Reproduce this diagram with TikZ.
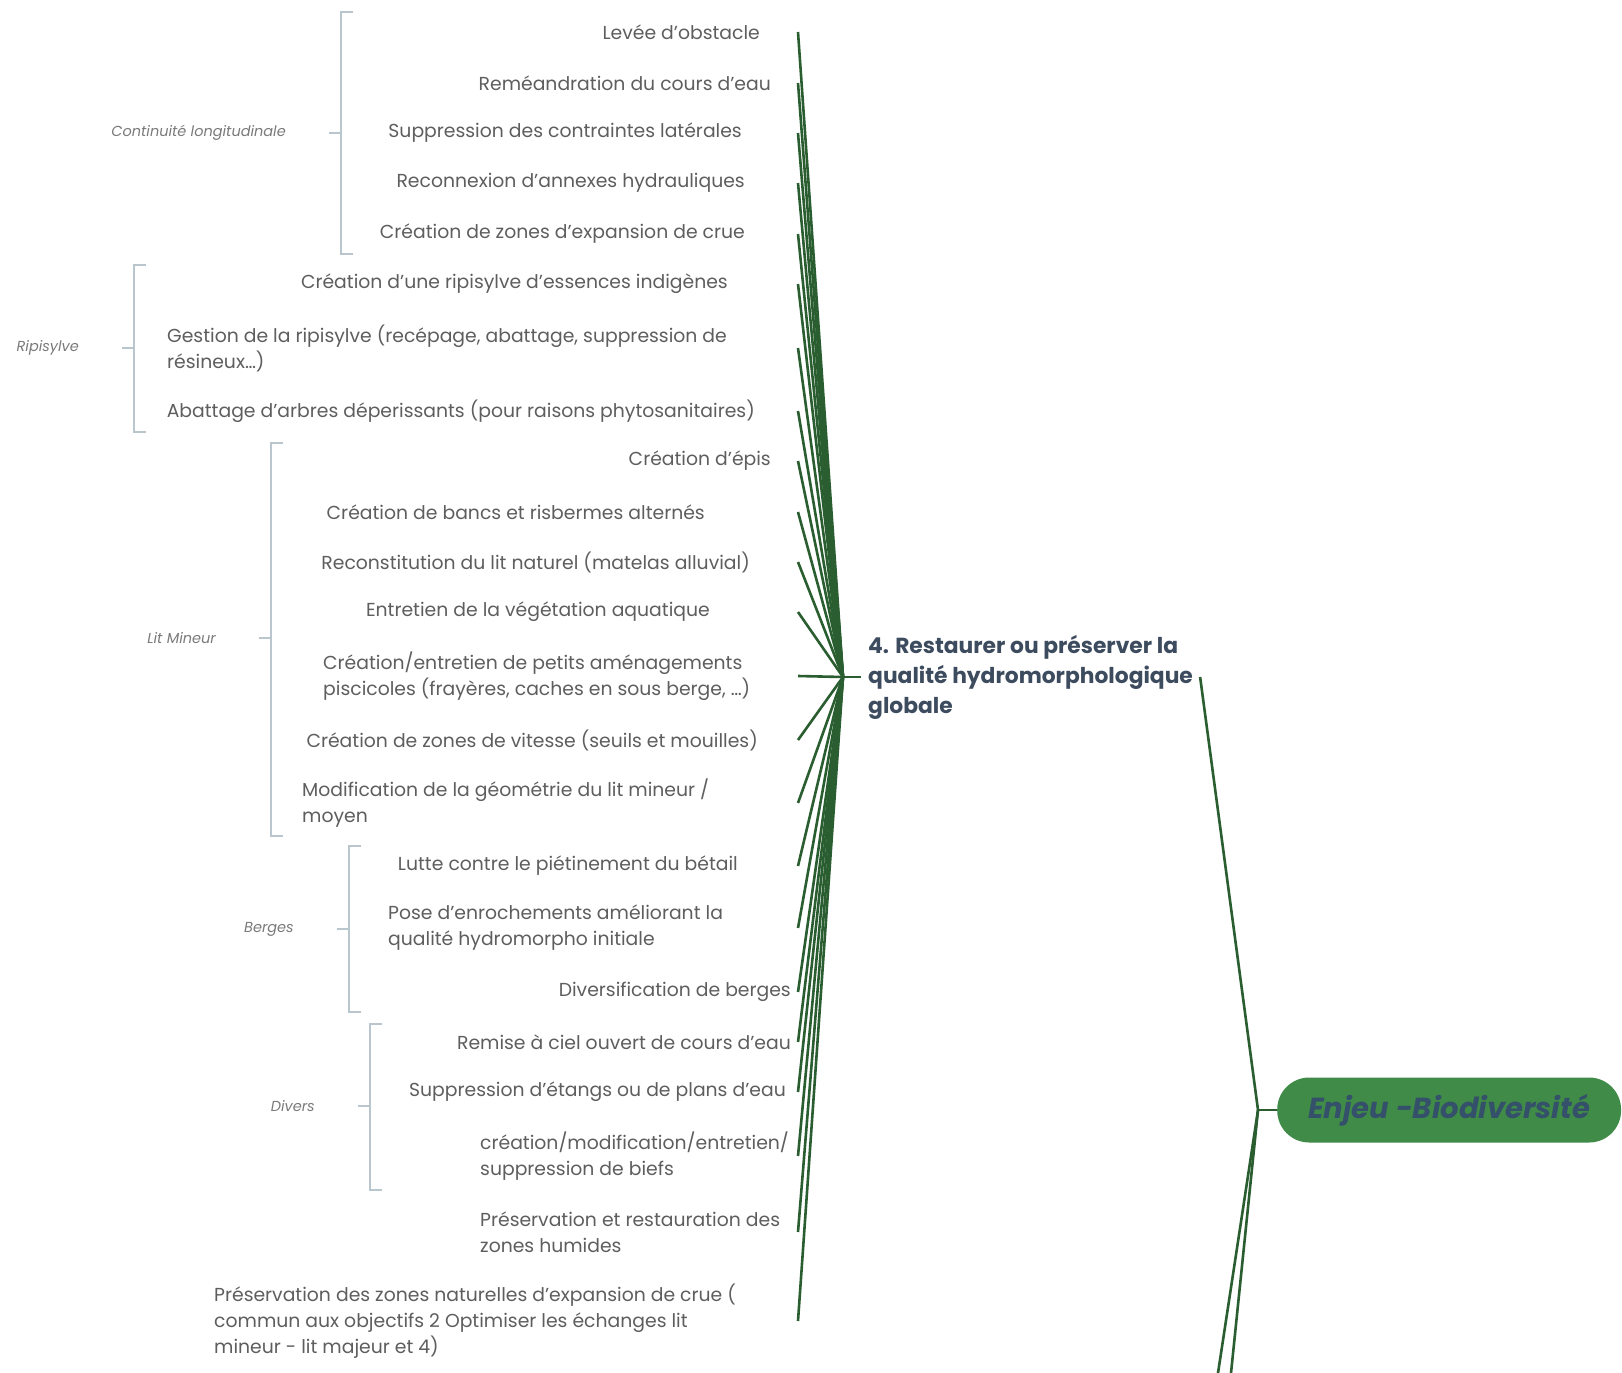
\documentclass[tikz,border=0pt]{standalone}
\usepackage{fontspec}
\setmainfont{Poppins}
\usetikzlibrary{positioning}

\definecolor{leafgray}{HTML}{5E5E5E}
\definecolor{catgray}{HTML}{7A7A7A}
\definecolor{brackgray}{HTML}{BAC6CD}
\definecolor{branchgreen}{HTML}{2A5E30}
\definecolor{titleblue}{HTML}{3D4B5F}
\definecolor{enjeugreen}{HTML}{3F8B47}
\definecolor{enjeutext}{HTML}{34506A}

\begin{document}
\begin{tikzpicture}[x=1pt, y=-1pt,
    leaf/.style={text=leafgray, font=\fontsize{18.8}{26}\selectfont, inner sep=0pt, align=left},
    cat/.style={text=catgray, font=\fontsize{14.5}{16}\selectfont\itshape, inner sep=0pt},
    brack/.style={brackgray, line width=1.2pt},
    branch/.style={branchgreen, line width=2.6pt}]

    \useasboundingbox[fill=white] (0,0) rectangle (1622,1373);

    % Objective and issue
    \coordinate (hub) at (843,677);
    \coordinate (tick) at (798,677);
    \node[anchor=west, inner xsep=7pt, inner ysep=0pt, align=left, text=titleblue,
      font=\fontsize{21.8}{30}\selectfont\bfseries] (obj) at (861,677)
      {4. Restaurer ou préserver la\\qualité hydromorphologique\\globale};
    \coordinate (root) at (1258,1110);
    \node[anchor=west, fill=enjeugreen, rounded corners=32pt, minimum height=65pt,
      inner xsep=31pt, text=enjeutext, font=\fontsize{29}{34}\selectfont\bfseries\itshape]
      (enjeu) at (1277,1110) {Enjeu -Biodiversité};
    \coordinate (down1) at (1218,1373);
    \coordinate (down2) at (1231,1373);

    % Actions
    \node[leaf, anchor=east] (l01) at (760,32) {Levée d'obstacle};
    \node[leaf, anchor=east] (l02) at (771,83) {Reméandration du cours d'eau};
    \node[leaf, anchor=east] (l03) at (742,133) {Suppression des contraintes latérales};
    \node[leaf, anchor=east] (l04) at (745,183) {Reconnexion d'annexes hydrauliques};
    \node[leaf, anchor=east] (l05) at (745,234) {Création de zones d'expansion de crue};
    \node[leaf, anchor=east] (l06) at (728,284) {Création d'une ripisylve d'essences indigènes};
    \node[leaf, anchor=west] (l07) at (167,348) {Gestion de la ripisylve (recépage, abattage, suppression de\\résineux…)};
    \node[leaf, anchor=east] (l08) at (755,411) {Abattage d'arbres déperissants (pour raisons phytosanitaires)};
    \node[leaf, anchor=east] (l09) at (771,461) {Création d'épis};
    \node[leaf, anchor=east] (l10) at (705,512) {Création de bancs et risbermes alternés};
    \node[leaf, anchor=east] (l11) at (750,562) {Reconstitution du lit naturel (matelas alluvial)};
    \node[leaf, anchor=east] (l12) at (710,612) {Entretien de la végétation aquatique};
    \node[leaf, anchor=west] (l13) at (323,676) {Création/entretien de petits aménagements\\piscicoles (frayères, caches en sous berge, …)};
    \node[leaf, anchor=east] (l14) at (758,740) {Création de zones de vitesse (seuils et mouilles)};
    \node[leaf, anchor=west] (l15) at (302,803) {Modification de la géométrie du lit mineur /\\moyen};
    \node[leaf, anchor=east] (l16) at (738,866) {Lutte contre le piétinement du bétail};
    \node[leaf, anchor=west] (l17) at (388,928) {Pose d'enrochements améliorant la\\qualité hydromorpho initiale};
    \node[leaf, anchor=east] (l18) at (791,992) {Diversification de berges};
    \node[leaf, anchor=east] (l19) at (791,1042) {Remise à ciel ouvert de cours d'eau};
    \node[leaf, anchor=east] (l20) at (786,1092) {Suppression d'étangs ou de plans d'eau};
    \node[leaf, anchor=west] (l21) at (480,1156) {création/modification/entretien/\\suppression de biefs};
    \node[leaf, anchor=west] (l22) at (480,1232) {Préservation et restauration des\\zones humides};
    \node[leaf, anchor=west] (l23) at (214,1321) {Préservation des zones naturelles d'expansion de crue (\\commun aux objectifs 2 Optimiser les échanges lit\\mineur - lit majeur et 4)};

    % Branches
    \foreach \n in {l01,l02,l03,l04,l05,l06,l07,l08,l09,l10,l11,l12,l13,l14,l15,l16,l17,l18,l19,l20,l21,l22,l23} {
      \draw[branch] (hub) -- (\n -| tick);
    }
    \draw[branch] (hub) -- (obj.west);
    \draw[branch] (root) -- (obj.east);
    \draw[branch] (root) -- (enjeu.west);
    \draw[branch] (root) -- (down1);
    \draw[branch] (root) -- (down2);

    % Groups
    \foreach \nm/\bx/\top/\mid/\bot/\txt in {
        gC/341/12/133/254/Continuité longitudinale,
        gR/134/265/348/432/Ripisylve,
        gL/271/443/638/836/Lit Mineur,
        gB/349/846/929/1012/Berges,
        gD/370/1024/1106/1190/Divers} {
      \coordinate (\nm) at (\bx,\mid);
      \node[cat, left=55pt of \nm] (\nm-lab) {\txt};
      \draw[brack] (\bx+12,\top) -- (\bx,\top) -- (\bx,\bot) -- (\bx+12,\bot);
      \draw[brack] (\nm) -- ++(-12,0);
    }
\end{tikzpicture}
\end{document}
